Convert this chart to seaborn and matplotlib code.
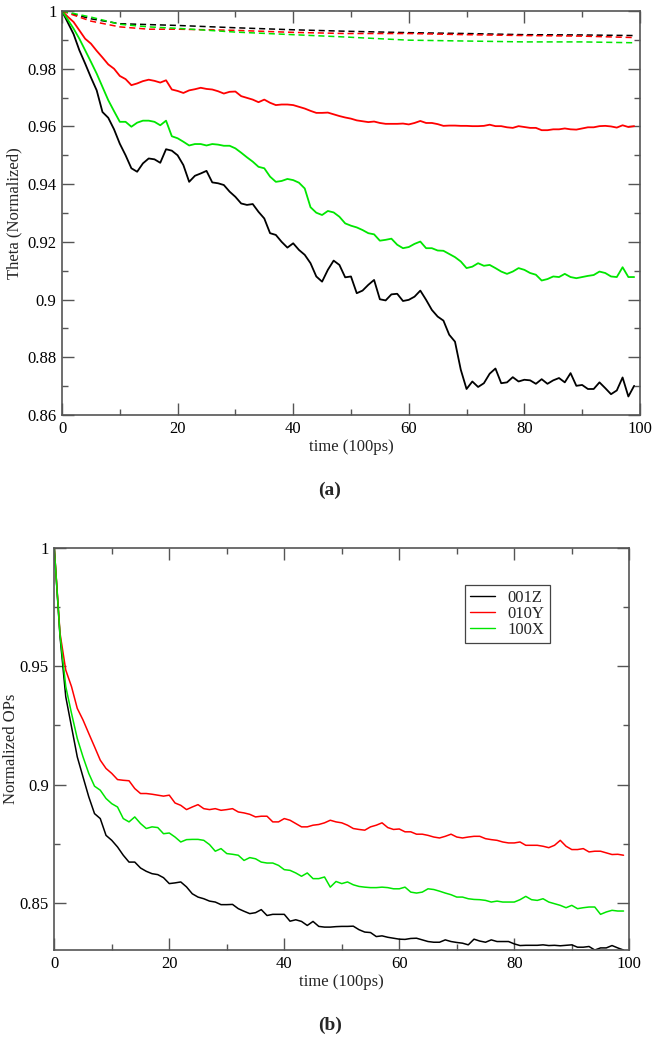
import numpy as np
import pandas as pd
import seaborn as sns
import matplotlib.pyplot as plt
from matplotlib.ticker import MultipleLocator, FormatStrFormatter

# ---- panel (a): theta, solid lines ----
time_a = list(range(100))
theta_black = [1.0, 0.996, 0.992, 0.9864, 0.9818, 0.977, 0.9725, 0.965, 0.963, 0.959,
               0.954, 0.950, 0.9455, 0.9443, 0.9472, 0.9489, 0.9486, 0.9474, 0.9521, 0.9516,
               0.950, 0.9466, 0.9408, 0.9429, 0.9437, 0.9446, 0.9406, 0.9403, 0.9397, 0.9374,
               0.9356, 0.9333, 0.9328, 0.9331, 0.9304, 0.9281, 0.923, 0.9224, 0.920, 0.918,
               0.9195, 0.9172, 0.9155, 0.9126, 0.908, 0.9062, 0.9103, 0.9135, 0.912, 0.9077,
               0.908, 0.9022, 0.9031, 0.9051, 0.9068, 0.9001, 0.8997, 0.9018, 0.902, 0.8995,
               0.8999, 0.901, 0.9031, 0.8999, 0.8964, 0.8941, 0.8927, 0.8878, 0.8854, 0.8757,
               0.869, 0.8716, 0.8697, 0.871, 0.8743, 0.8761, 0.871, 0.8713, 0.8731, 0.8716,
               0.8722, 0.872, 0.8708, 0.8724, 0.8708, 0.872, 0.8728, 0.8713, 0.8745, 0.8701,
               0.8704, 0.869, 0.869, 0.8713, 0.8693, 0.8672, 0.8685, 0.873, 0.8664, 0.8701]
theta_red = [1.0, 0.998, 0.9962, 0.9933, 0.9904, 0.9887, 0.9862, 0.9839, 0.9815, 0.980,
             0.9775, 0.9764, 0.9743, 0.9749, 0.9757, 0.9762, 0.9758, 0.9752, 0.976, 0.9728,
             0.9723, 0.9716, 0.9725, 0.9729, 0.9734, 0.973, 0.9728, 0.9722, 0.9714, 0.972,
             0.9721, 0.9705, 0.9699, 0.9693, 0.9684, 0.9693, 0.9682, 0.9674, 0.9676, 0.9676,
             0.9674, 0.9668, 0.9662, 0.9654, 0.9647, 0.9647, 0.9648, 0.9642, 0.9636, 0.9631,
             0.9627, 0.9621, 0.9618, 0.9615, 0.9617, 0.9612, 0.9609, 0.9609, 0.9609, 0.961,
             0.9607, 0.9612, 0.9619, 0.9612, 0.9612, 0.9608, 0.9602, 0.9603, 0.9603, 0.9602,
             0.9602, 0.9601, 0.9601, 0.9602, 0.9606, 0.9601, 0.9601, 0.9597, 0.9595, 0.9601,
             0.9598, 0.9595, 0.9595, 0.9587, 0.9587, 0.959, 0.959, 0.9593, 0.959, 0.9589,
             0.9593, 0.9597, 0.9597, 0.9601, 0.9602, 0.96, 0.9596, 0.9604, 0.9598, 0.9601]
theta_green = [1.0, 0.997, 0.9939, 0.9904, 0.9864, 0.9824, 0.9783, 0.9737, 0.9691, 0.9653,
               0.9616, 0.9616, 0.9599, 0.9613, 0.962, 0.962, 0.9616, 0.9604, 0.962, 0.9566,
               0.9559, 0.9547, 0.9534, 0.9539, 0.9539, 0.9534, 0.9539, 0.9537, 0.9533, 0.9533,
               0.9524, 0.9509, 0.9493, 0.9478, 0.946, 0.9455, 0.9426, 0.9408, 0.9411, 0.9418,
               0.9414, 0.9405, 0.9385, 0.932, 0.9301, 0.9293, 0.9307, 0.9302, 0.9287, 0.9264,
               0.9256, 0.925, 0.9241, 0.923, 0.9226, 0.9204, 0.9207, 0.9211, 0.919, 0.9178,
               0.9182, 0.9193, 0.9201, 0.9178, 0.9178, 0.917, 0.9169, 0.9158, 0.9147, 0.9132,
               0.9109, 0.9114, 0.9126, 0.9117, 0.912, 0.9109, 0.9097, 0.9089, 0.9097, 0.9109,
               0.9103, 0.9092, 0.9086, 0.9066, 0.9071, 0.908, 0.9078, 0.9089, 0.9078, 0.9074,
               0.9078, 0.9082, 0.9085, 0.9097, 0.9092, 0.908, 0.9078, 0.9112, 0.9078, 0.9078]

# ---- panel (a): dashed lines ----
time_dash = [0, 5, 10, 15, 20, 30, 40, 49, 60, 70, 80, 90, 99]
dash_black = [1.0, 0.9973, 0.9956, 0.9953, 0.995, 0.9942, 0.9935, 0.993, 0.9925, 0.9922, 0.9918, 0.9917, 0.9915]
dash_red = [1.0, 0.9965, 0.9945, 0.9937, 0.9937, 0.9933, 0.9926, 0.9922, 0.9922, 0.9918, 0.9915, 0.9913, 0.9908]
dash_green = [1.0, 0.9979, 0.9954, 0.9945, 0.994, 0.9927, 0.9918, 0.991, 0.9899, 0.9896, 0.9893, 0.9893, 0.989]

# ---- panel (b): normalized OPs ----
time_b = list(range(100))
op_001z = [1.0, 0.9626, 0.9371, 0.9244, 0.9117, 0.9032, 0.8948, 0.8877, 0.8856, 0.8785,
           0.8764, 0.8736, 0.8701, 0.8672, 0.8672, 0.8647, 0.8633, 0.8623, 0.8619, 0.8606,
           0.8581, 0.8584, 0.8588, 0.8567, 0.8538, 0.8524, 0.8517, 0.8507, 0.8503, 0.8492,
           0.8492, 0.8493, 0.8475, 0.8464, 0.8454, 0.8458, 0.8471, 0.8446, 0.8451, 0.8451,
           0.8451, 0.8422, 0.8428, 0.8421, 0.8404, 0.8421, 0.84, 0.8397, 0.8397, 0.8399,
           0.84, 0.84, 0.8401, 0.8386, 0.8376, 0.8374, 0.8357, 0.836, 0.8354, 0.835,
           0.8346, 0.8345, 0.8349, 0.835, 0.8343, 0.8336, 0.8333, 0.8333, 0.8343, 0.8336,
           0.8332, 0.8329, 0.8322, 0.8346, 0.8338, 0.8333, 0.8343, 0.8336, 0.8336, 0.8336,
           0.8326, 0.8319, 0.832, 0.832, 0.832, 0.8322, 0.8319, 0.832, 0.8318, 0.832,
           0.8322, 0.8312, 0.8312, 0.8315, 0.830, 0.8309, 0.8309, 0.8319, 0.8309, 0.830]
op_010y = [1.0, 0.964, 0.9484, 0.9414, 0.9322, 0.9273, 0.9216, 0.916, 0.9103, 0.9068,
           0.9047, 0.9021, 0.9018, 0.9016, 0.8983, 0.8962, 0.8962, 0.8959, 0.8955, 0.8951,
           0.8955, 0.8922, 0.8912, 0.8894, 0.8905, 0.8915, 0.8898, 0.8894, 0.8898, 0.8891,
           0.8894, 0.8898, 0.8884, 0.888, 0.8874, 0.8863, 0.8866, 0.8866, 0.8842, 0.8842,
           0.8856, 0.8849, 0.8835, 0.8821, 0.8821, 0.8828, 0.8831, 0.8838, 0.8849, 0.8842,
           0.8838, 0.8828, 0.8814, 0.881, 0.8807, 0.8821, 0.8828, 0.8838, 0.8818, 0.881,
           0.8812, 0.88, 0.88, 0.879, 0.879, 0.8785, 0.8778, 0.8774, 0.8781, 0.879,
           0.8778, 0.8774, 0.8778, 0.8781, 0.8781, 0.8771, 0.8767, 0.8764, 0.8757, 0.8753,
           0.8753, 0.8757, 0.8743, 0.8743, 0.8743, 0.8739, 0.8733, 0.8743, 0.8764, 0.8739,
           0.8725, 0.8725, 0.8729, 0.8715, 0.8718, 0.8718, 0.8711, 0.8704, 0.8705, 0.8701]
op_100x = [1.0, 0.9633, 0.9414, 0.9301, 0.9195, 0.9117, 0.9047, 0.8993, 0.8976, 0.8941,
           0.8919, 0.8905, 0.8856, 0.8842, 0.8863, 0.8835, 0.8814, 0.8821, 0.8818, 0.8792,
           0.8795, 0.8778, 0.8757, 0.8767, 0.8768, 0.8768, 0.8764, 0.8746, 0.8718, 0.8729,
           0.8708, 0.8705, 0.8701, 0.8679, 0.8691, 0.8686, 0.8672, 0.8668, 0.8668, 0.8658,
           0.864, 0.8637, 0.8626, 0.8612, 0.8626, 0.8602, 0.8602, 0.8609, 0.8566, 0.859,
           0.8581, 0.8588, 0.8576, 0.8569, 0.8566, 0.8564, 0.8564, 0.8566, 0.8564, 0.8559,
           0.8559, 0.8566, 0.8545, 0.8541, 0.8545, 0.8559, 0.8556, 0.8549, 0.8541, 0.8534,
           0.8524, 0.8524, 0.8517, 0.8514, 0.8513, 0.851, 0.8503, 0.8507, 0.8503, 0.8503,
           0.8503, 0.8513, 0.8527, 0.8513, 0.851, 0.8517, 0.8503, 0.8496, 0.8489, 0.8479,
           0.8489, 0.8475, 0.8479, 0.8482, 0.8482, 0.8451, 0.8461, 0.8468, 0.8465, 0.8465]

labels_b = ["001Z", "010Y", "100X"]

BLACK, RED, GREEN = "#000000", "#ff0000", "#00e600"
AXIS = "#555555"

sns.set_style("ticks")
plt.rcParams["font.family"] = ["Liberation Serif", "DejaVu Serif"]
plt.rcParams["font.size"] = 12

fig = plt.figure(figsize=(6.57, 10.5), dpi=100)
ax1 = fig.add_axes([0.0944, 0.6048, 0.8796, 0.3847])
ax2 = fig.add_axes([0.0826, 0.0952, 0.8752, 0.3828])


def style_axes(ax):
    for s in ax.spines.values():
        s.set_color(AXIS)
        s.set_linewidth(1.2)
    ax.tick_params(which="both", direction="in", top=True, right=True,
                   colors=AXIS, labelcolor="black", labelsize=12)
    ax.tick_params(which="major", length=8.5, width=1.0, pad=4)
    ax.tick_params(which="minor", length=4.5, width=1.0)
    ax.xaxis.set_major_locator(MultipleLocator(20))
    ax.xaxis.set_minor_locator(MultipleLocator(10))
    ax.xaxis.set_major_formatter(FormatStrFormatter("%g"))
    ax.yaxis.set_major_formatter(FormatStrFormatter("%g"))
    ax.grid(False)


# panel (a)
for y, c in [(theta_black, BLACK), (theta_red, RED), (theta_green, GREEN)]:
    sns.lineplot(x=time_a, y=y, ax=ax1, color=c, linewidth=1.3, estimator=None)
for y, c in [(dash_black, BLACK), (dash_red, RED), (dash_green, GREEN)]:
    sns.lineplot(x=time_dash, y=y, ax=ax1, color=c, linewidth=1.1,
                 linestyle=(0, (4, 2.5)), estimator=None)
ax1.set_xlim(0, 100)
ax1.set_ylim(0.86, 1.0)
ax1.yaxis.set_major_locator(MultipleLocator(0.02))
ax1.yaxis.set_minor_locator(MultipleLocator(0.01))
style_axes(ax1)
ax1.set_xlabel("time (100ps)", labelpad=2)
ax1.set_ylabel("Theta (Normalized)")
ax1.yaxis.set_label_coords(-0.069, 0.5)

# panel (b)
df_b = pd.DataFrame({"time": time_b * 3,
                     "op": op_001z + op_010y + op_100x,
                     "series": sum([[lab] * len(time_b) for lab in labels_b], [])})
sns.lineplot(data=df_b, x="time", y="op", hue="series", ax=ax2,
             palette=[BLACK, RED, GREEN], linewidth=1.1, estimator=None)
ax2.set_xlim(0, 100)
ax2.set_ylim(0.83, 1.0)
ax2.yaxis.set_major_locator(MultipleLocator(0.05))
ax2.yaxis.set_minor_locator(MultipleLocator(0.025))
style_axes(ax2)
ax2.set_xlabel("time (100ps)", labelpad=2)
ax2.set_ylabel("Normalized OPs")
ax2.yaxis.set_label_coords(-0.062, 0.5)

leg = ax2.legend(loc="upper left", bbox_to_anchor=(0.699, 0.93), frameon=True,
                 fancybox=False, framealpha=1, edgecolor="#444444",
                 handlelength=1.5, handletextpad=0.8, borderpad=0.3,
                 labelspacing=0.0, fontsize=12)
leg.get_frame().set_linewidth(0.9)
for h in leg.get_lines():
    h.set_linewidth(1.0)

fig.text(0.502, 0.533, "(a)", ha="center", va="center", fontsize=14, fontweight="bold")
fig.text(0.502, 0.0238, "(b)", ha="center", va="center", fontsize=14, fontweight="bold")

fig.savefig("out.png", dpi=100)
